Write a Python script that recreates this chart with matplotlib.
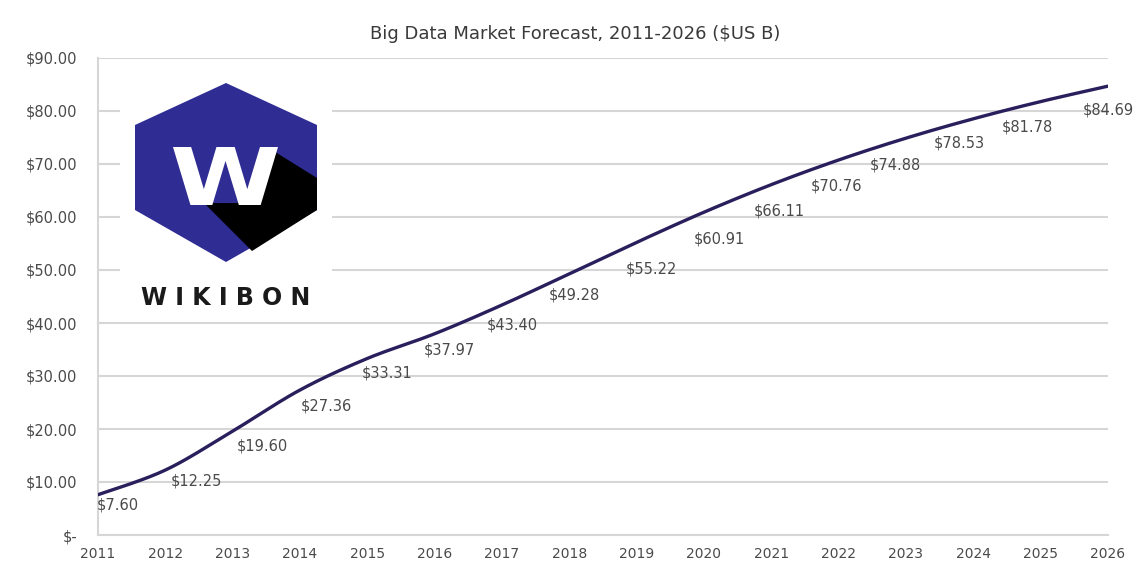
import numpy as np
import matplotlib.pyplot as plt
from matplotlib.patches import Polygon, Rectangle, PathPatch
from matplotlib.textpath import TextPath
from matplotlib.font_manager import FontProperties
from matplotlib.transforms import Affine2D
from matplotlib.ticker import FuncFormatter

years = list(range(2011, 2027))
revenue = [7.60, 12.25, 19.60, 27.36, 33.31, 37.97, 43.40, 49.28,
           55.22, 60.91, 66.11, 70.76, 74.88, 78.53, 81.78, 84.69]
y_ticks = [0, 10, 20, 30, 40, 50, 60, 70, 80, 90]
title = 'Big Data Market Forecast, 2011-2026 ($US B)'

# nudges for the data labels, in pixels (x right, y down)
label_dx = [20, 31, 30, 26, 20, 15, 10, 5, 15, 15, 8, -2, -11, -14, -13, 0]
label_dy = [10, 11, 15, 16, 15, 16, 20, 21, 27, 27, 26, 26, 27, 24, 25, 24]

line_col = '#2a1f5c'
text_col = '#4a4a4a'
grid_col = '#d6d6d6'


def smooth(x, y, n=20):
    # excel-style smoothed line (bezier with catmull-rom control points)
    x = np.asarray(x, float)
    y = np.asarray(y, float)
    px = np.concatenate([[x[0]], x, [x[-1]]])
    py = np.concatenate([[y[0]], y, [y[-1]]])
    xs, ys = [], []
    t = np.linspace(0, 1, n)
    for i in range(1, len(px) - 2):
        p0 = np.array([px[i], py[i]])
        p3 = np.array([px[i + 1], py[i + 1]])
        c1 = p0 + (np.array([px[i + 1], py[i + 1]]) - np.array([px[i - 1], py[i - 1]])) / 6
        c2 = p3 - (np.array([px[i + 2], py[i + 2]]) - np.array([px[i], py[i]])) / 6
        b = ((1 - t) ** 3)[:, None] * p0 + (3 * (1 - t) ** 2 * t)[:, None] * c1 \
            + (3 * (1 - t) * t ** 2)[:, None] * c2 + (t ** 3)[:, None] * p3
        xs.extend(b[:, 0])
        ys.extend(b[:, 1])
    return xs, ys


fig = plt.figure(figsize=(11.42, 5.63), dpi=100)
ax = fig.add_axes([98 / 1142, 1 - 535 / 563, 1010 / 1142, 477 / 563])

sx, sy = smooth(years, revenue)
ax.plot(sx, sy, color=line_col, lw=2.4, solid_capstyle='round', zorder=3)

for yr, v, dx, dy in zip(years, revenue, label_dx, label_dy):
    ax.annotate(f'${v:.2f}', (yr, v), xytext=(dx, -dy), textcoords='offset pixels',
                ha='center', va='center', fontsize=10.5, color=text_col, zorder=4,
                annotation_clip=False)

ax.set_xlim(2011, 2026)
ax.set_ylim(0, 90)
ax.set_yticks(y_ticks)
ax.set_xticks(years)
ax.yaxis.set_major_formatter(FuncFormatter(lambda v, p: '$-' if v == 0 else f'${v:.2f}'))
ax.tick_params(length=0, colors=text_col)
ax.tick_params(axis='y', pad=15, labelsize=10.5)
ax.tick_params(axis='x', pad=9, labelsize=10)
ax.grid(axis='y', color=grid_col, lw=1.5, zorder=0)
for s in ['top', 'right']:
    ax.spines[s].set_visible(False)
for s in ['left', 'bottom']:
    ax.spines[s].set_color(grid_col)
    ax.spines[s].set_linewidth(1.5)

fig.text(575 / 1142, 1 - 34 / 563, title, ha='center', va='center', fontsize=13, color='#3a3a3a')


# logo block over the top-left of the plot (drawn in figure pixels)
def px(x, y):
    return (x / 1142, 1 - y / 563)


fig.patches.append(Rectangle(px(120, 318), 212 / 1142, 250 / 563, transform=fig.transFigure,
                             facecolor='white', edgecolor='none', zorder=5))
hexagon = [px(226, 83), px(317, 125), px(317, 210), px(226, 262), px(135, 210), px(135, 125)]
fig.patches.append(Polygon(hexagon, closed=True, transform=fig.transFigure,
                           facecolor='#2f2c94', edgecolor='none', zorder=6))
shadow = [px(272, 150), px(317, 178), px(317, 210), px(252, 251), px(204, 203), px(255, 203)]
fig.patches.append(Polygon(shadow, closed=True, transform=fig.transFigure,
                           facecolor='black', edgecolor='none', zorder=7))

# wide white W, stretched to the logo's proportions
wpath = TextPath((0, 0), 'W', size=100, prop=FontProperties(family='DejaVu Sans', weight='bold'))
ext = wpath.get_extents()
sxw = 105 / ext.width
syw = 58 / ext.height
tr = Affine2D().translate(-ext.x0, -ext.y0).scale(sxw, syw).translate(173, 563 - 205)
fig.patches.append(PathPatch(tr.transform_path(wpath), transform=None,
                             facecolor='white', edgecolor='none', zorder=8))
fig.text(*px(226, 298), 'W I K I B O N', ha='center', va='center', fontsize=17,
         fontweight='bold', family='DejaVu Sans', color='#1a1a1a', zorder=8)

fig.savefig('out.png', dpi=100, facecolor='white')
